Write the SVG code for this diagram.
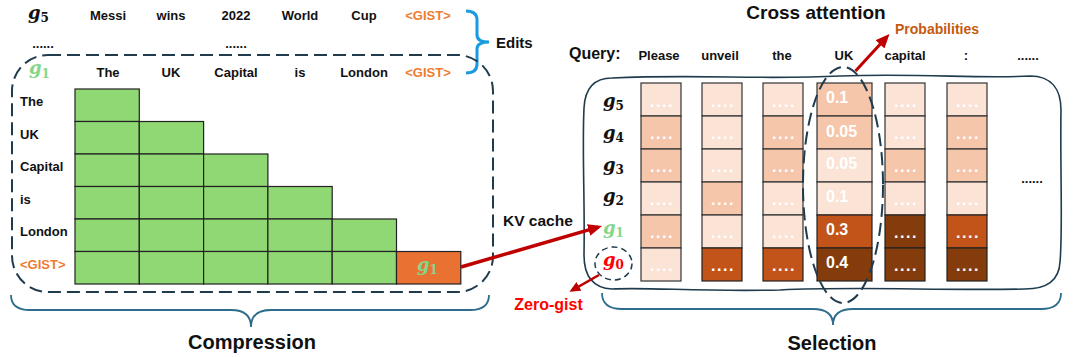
<svg xmlns="http://www.w3.org/2000/svg" width="1080" height="357" viewBox="0 0 1080 357">
<defs>
<marker id="ah" markerUnits="userSpaceOnUse" markerWidth="14" markerHeight="12" viewBox="0 0 14 12" refX="10" refY="6" orient="auto"><path d="M0 0 L14 6 L0 12 z" fill="#C00000"/></marker>
<marker id="ahs" markerUnits="userSpaceOnUse" markerWidth="11" markerHeight="10" viewBox="0 0 11 10" refX="8" refY="5" orient="auto"><path d="M0 0 L11 5 L0 10 z" fill="#C00000"/></marker>
</defs>
<style>
text{font-family:"Liberation Sans",Arial,sans-serif;font-weight:bold;}
.w{font-size:13px;fill:#111;}
.gist{font-size:13px;fill:#ED7D31;}
.m{font-family:"DejaVu Serif","Liberation Serif",serif;font-style:italic;font-weight:bold;font-size:18px;fill:#111;}
.sub{font-style:normal;font-size:12px;}
.gr{fill:#8FD874;stroke:#222;stroke-width:1.2;}
.or{fill:#E97132;stroke:#222;stroke-width:1.2;}
.c0{fill:#FBE3D6;stroke:#333;stroke-width:1.2;}
.c1{fill:#F5C6AA;stroke:#333;stroke-width:1.2;}
.c2{fill:#C2541A;stroke:#222;stroke-width:1.2;}
.c3{fill:#843C0C;stroke:#222;stroke-width:1.2;}
.dot{font-size:16px;fill:#fff;letter-spacing:1.6px;text-anchor:middle;}
.num{font-size:16px;fill:#fff;}
.dash{fill:none;stroke:#1F3B4D;stroke-width:2;stroke-dasharray:13 6;}
.brace{fill:none;stroke:#2F6D8C;stroke-width:1.8;}
.red{stroke:#C00000;fill:none;}
</style>

<!-- LEFT: compression -->
<g id="edits-row">
<text class="m" x="28" y="19">g<tspan class="sub" dy="3">5</tspan></text>
<g class="w" text-anchor="middle">
<text x="108" y="20">Messi</text><text x="171" y="20">wins</text><text x="236" y="20">2022</text><text x="300" y="20">World</text><text x="364" y="20">Cup</text>
</g>
<text class="gist" x="428" y="20" text-anchor="middle">&lt;GIST&gt;</text>
<text class="w" x="43" y="48" text-anchor="middle">......</text>
<text class="w" x="236" y="48" text-anchor="middle">......</text>
</g>

<g id="edits-label">
<path d="M466 11 Q477 11 477 20 L477 35 Q477 42 489 42 Q477 42 477 49 L477 64 Q477 73 466 73" fill="none" stroke="#1A9BE0" stroke-width="3"/>
<text x="496" y="48" style="font-size:15px;fill:#111">Edits</text>
</g>

<g id="compression-box">
<rect class="dash" x="12" y="55" width="481" height="237" rx="36" ry="36"/>
<text class="m" x="29" y="74" style="fill:#86D68A">g<tspan class="sub" dy="3.5">1</tspan></text>
<g class="w" text-anchor="middle">
<text x="108" y="77">The</text><text x="171" y="77">UK</text><text x="236" y="77">Capital</text><text x="300" y="77">is</text><text x="364" y="77">London</text>
</g>
<text class="gist" x="428" y="77" text-anchor="middle">&lt;GIST&gt;</text>
<g class="w">
<text x="20" y="106">The</text><text x="20" y="138.5">UK</text><text x="20" y="171">Capital</text><text x="20" y="203.5">is</text><text x="20" y="236">London</text>
</g>
<text class="gist" x="20" y="268.5">&lt;GIST&gt;</text>
</g>

<g id="attention-grid">
<rect class="gr" x="75" y="89" width="64.3" height="32.5"/>
<rect class="gr" x="75" y="121.5" width="64.3" height="32.5"/><rect class="gr" x="139.3" y="121.5" width="64.3" height="32.5"/>
<rect class="gr" x="75" y="154" width="64.3" height="32.5"/><rect class="gr" x="139.3" y="154" width="64.3" height="32.5"/><rect class="gr" x="203.6" y="154" width="64.3" height="32.5"/>
<rect class="gr" x="75" y="186.5" width="64.3" height="32.5"/><rect class="gr" x="139.3" y="186.5" width="64.3" height="32.5"/><rect class="gr" x="203.6" y="186.5" width="64.3" height="32.5"/><rect class="gr" x="267.9" y="186.5" width="64.3" height="32.5"/>
<rect class="gr" x="75" y="219" width="64.3" height="32.5"/><rect class="gr" x="139.3" y="219" width="64.3" height="32.5"/><rect class="gr" x="203.6" y="219" width="64.3" height="32.5"/><rect class="gr" x="267.9" y="219" width="64.3" height="32.5"/><rect class="gr" x="332.2" y="219" width="64.3" height="32.5"/>
<rect class="gr" x="75" y="251.5" width="64.3" height="32.5"/><rect class="gr" x="139.3" y="251.5" width="64.3" height="32.5"/><rect class="gr" x="203.6" y="251.5" width="64.3" height="32.5"/><rect class="gr" x="267.9" y="251.5" width="64.3" height="32.5"/><rect class="gr" x="332.2" y="251.5" width="64.3" height="32.5"/>
</g>
<g id="gist-token">
<rect class="or" x="396.5" y="251.5" width="64.3" height="32.5"/>
<text class="m" x="417" y="271" style="fill:#86D68A">g<tspan class="sub" dy="3">1</tspan></text>
</g>

<g id="compression-label">
<path class="brace" d="M11 295 Q11 310 30 310 L231 310 Q251 310 251 327 Q251 310 271 310 L470 310 Q489 310 489 295"/>
<text x="252" y="349" text-anchor="middle" style="font-size:20px;fill:#111">Compression</text>
</g>

<text id="kv-label" x="503" y="225.5" style="font-size:15.5px;fill:#111">KV cache</text>

<!-- RIGHT: selection -->
<g id="cross-attention-title">
<text x="816" y="19" text-anchor="middle" style="font-size:19px;fill:#111">Cross attention</text>
<text x="895" y="34" style="font-size:14px;fill:#C55A11">Probabilities</text>
</g>

<g id="query-row">
<text x="569" y="59" style="font-size:16px;fill:#111">Query:</text>
<g class="w" text-anchor="middle">
<text x="659" y="60">Please</text><text x="720" y="60">unveil</text><text x="782" y="60">the</text><text x="844" y="60">UK</text><text x="905" y="60">capital</text><text x="966" y="60">:</text><text x="1028" y="60">......</text>
</g>
</g>

<g id="selection-box">
<path d="M612 78 C700 74 760 80 840 76 C920 73 980 79 1030 76 C1052 76 1061 90 1061 110 C1060 170 1063 230 1060 262 C1059 282 1045 289 1025 289 C940 291 860 286 780 290 C700 292 650 287 612 289 C592 288 584 275 584 255 C585 200 582 150 584 108 C585 88 595 78 612 78 Z" fill="none" stroke="#1F3B4D" stroke-width="1.6"/>
</g>

<g id="gist-labels">
<text class="m" x="603" y="107">g<tspan class="sub" dy="3">5</tspan></text>
<text class="m" x="603" y="139">g<tspan class="sub" dy="3">4</tspan></text>
<text class="m" x="603" y="171">g<tspan class="sub" dy="3">3</tspan></text>
<text class="m" x="603" y="202">g<tspan class="sub" dy="3">2</tspan></text>
<text class="m" x="603" y="234" style="fill:#86D68A">g<tspan class="sub" dy="3">1</tspan></text>
<text class="m" x="603" y="266" style="fill:#FF0000">g<tspan class="sub" dy="3">0</tspan></text>
<ellipse class="dash" cx="613.5" cy="263.5" rx="18.5" ry="16.5" style="stroke-width:1.5;stroke-dasharray:6 4"/>
</g>

<g id="col-please">
<rect class="c0" x="641" y="83" width="40" height="33"/><rect class="c1" x="641" y="116" width="40" height="33"/><rect class="c1" x="641" y="149" width="40" height="33"/><rect class="c0" x="641" y="182" width="40" height="33"/><rect class="c1" x="641" y="215" width="40" height="33"/><rect class="c0" x="641" y="248" width="40" height="33"/>
<g class="dot"><text x="662" y="106.5">....</text><text x="662" y="139">....</text><text x="662" y="172">....</text><text x="662" y="205">....</text><text x="662" y="238">....</text><text x="662" y="271">....</text></g>
</g>
<g id="col-unveil">
<rect class="c0" x="702" y="83" width="40" height="33"/><rect class="c0" x="702" y="116" width="40" height="33"/><rect class="c0" x="702" y="149" width="40" height="33"/><rect class="c1" x="702" y="182" width="40" height="33"/><rect class="c0" x="702" y="215" width="40" height="33"/><rect class="c2" x="702" y="248" width="40" height="33"/>
<g class="dot"><text x="723" y="106.5">....</text><text x="723" y="139">....</text><text x="723" y="172">....</text><text x="723" y="205">....</text><text x="723" y="238">....</text><text x="723" y="271">....</text></g>
</g>
<g id="col-the">
<rect class="c0" x="763" y="83" width="40" height="33"/><rect class="c1" x="763" y="116" width="40" height="33"/><rect class="c1" x="763" y="149" width="40" height="33"/><rect class="c0" x="763" y="182" width="40" height="33"/><rect class="c0" x="763" y="215" width="40" height="33"/><rect class="c2" x="763" y="248" width="40" height="33"/>
<g class="dot"><text x="784" y="106.5">....</text><text x="784" y="139">....</text><text x="784" y="172">....</text><text x="784" y="205">....</text><text x="784" y="238">....</text><text x="784" y="271">....</text></g>
</g>
<g id="col-uk">
<rect class="c1" x="817" y="83" width="55" height="33"/><rect class="c1" x="817" y="116" width="55" height="33"/><rect class="c0" x="817" y="149" width="55" height="33"/><rect class="c0" x="817" y="182" width="55" height="33"/><rect class="c2" x="817" y="215" width="55" height="33"/><rect class="c3" x="817" y="248" width="55" height="33"/>
<g class="num"><text x="826" y="103">0.1</text><text x="826" y="137">0.05</text><text x="826" y="169">0.05</text><text x="826" y="202">0.1</text><text x="826" y="235">0.3</text><text x="826" y="268">0.4</text></g>
</g>
<g id="col-capital">
<rect class="c0" x="885" y="83" width="40" height="33"/><rect class="c0" x="885" y="116" width="40" height="33"/><rect class="c1" x="885" y="149" width="40" height="33"/><rect class="c0" x="885" y="182" width="40" height="33"/><rect class="c3" x="885" y="215" width="40" height="33"/><rect class="c3" x="885" y="248" width="40" height="33"/>
<g class="dot"><text x="906" y="106.5">....</text><text x="906" y="139">....</text><text x="906" y="172">....</text><text x="906" y="205">....</text><text x="906" y="238">....</text><text x="906" y="271">....</text></g>
</g>
<g id="col-colon">
<rect class="c0" x="947" y="83" width="40" height="33"/><rect class="c1" x="947" y="116" width="40" height="33"/><rect class="c1" x="947" y="149" width="40" height="33"/><rect class="c0" x="947" y="182" width="40" height="33"/><rect class="c2" x="947" y="215" width="40" height="33"/><rect class="c3" x="947" y="248" width="40" height="33"/>
<g class="dot"><text x="968" y="106.5">....</text><text x="968" y="139">....</text><text x="968" y="172">....</text><text x="968" y="205">....</text><text x="968" y="238">....</text><text x="968" y="271">....</text></g>
</g>
<text id="more-cols" class="w" x="1032" y="183" text-anchor="middle">......</text>

<ellipse id="uk-highlight" class="dash" cx="843" cy="185" rx="40" ry="118"/>

<g id="selection-label">
<path class="brace" d="M602 293 Q602 309 622 309 L813 309 Q833 309 833 325 Q833 309 853 309 L1041 309 Q1061 309 1061 293"/>
<text x="832" y="350" text-anchor="middle" style="font-size:20px;fill:#111">Selection</text>
</g>

<text id="zero-gist" x="548.5" y="310" text-anchor="middle" style="font-size:16px;fill:#FF0000">Zero-gist</text>

<g id="connectors">
<line class="red" x1="461" y1="267" x2="598.2" y2="227.1" stroke-width="3.5" marker-end="url(#ah)"/>
<line class="red" x1="599" y1="275" x2="572" y2="290.3" stroke-width="2.5" marker-end="url(#ahs)"/>
<line class="red" x1="855.5" y1="71" x2="886.8" y2="37" stroke-width="3" marker-end="url(#ah)"/>
</g>
</svg>
